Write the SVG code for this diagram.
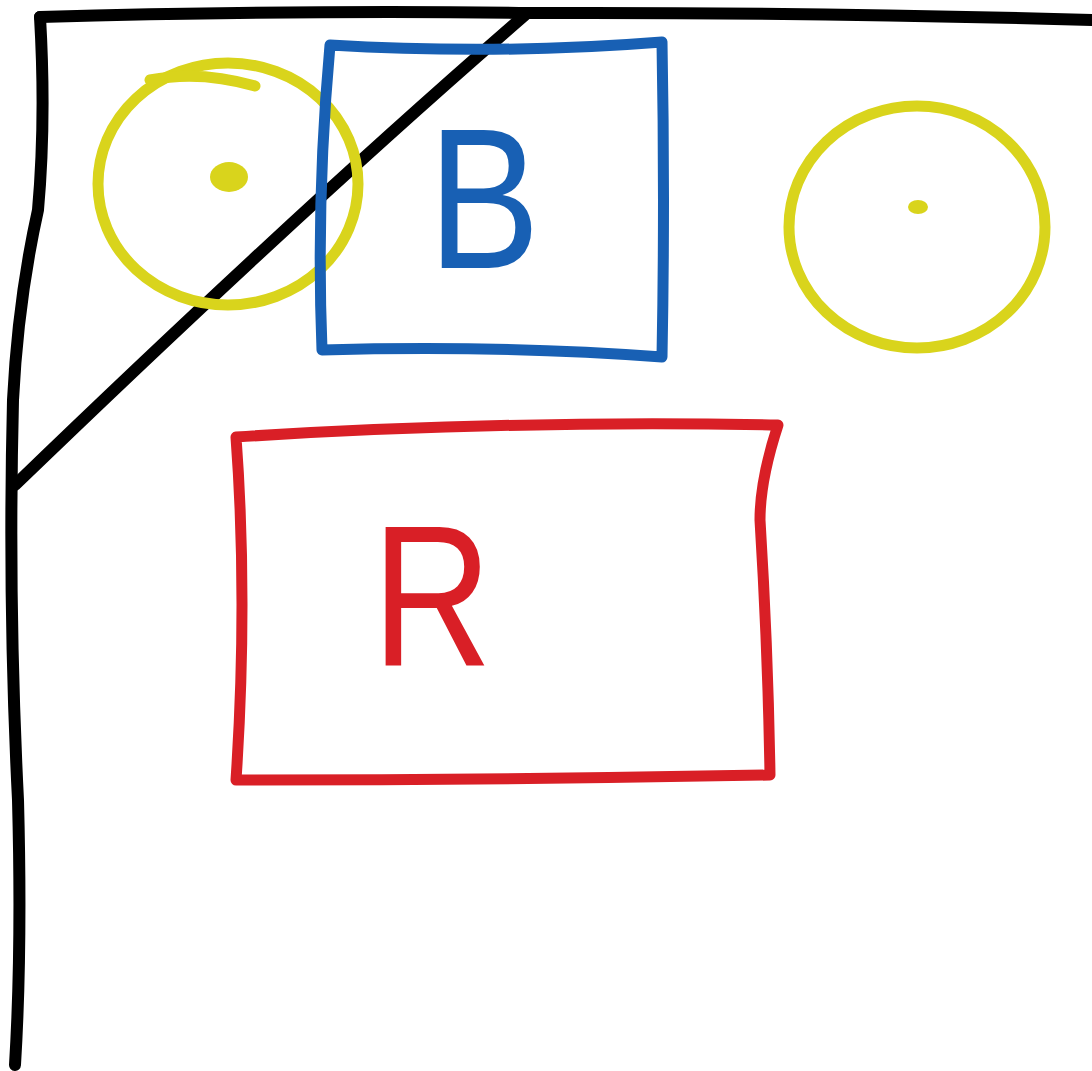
<svg xmlns="http://www.w3.org/2000/svg" width="1092" height="1071" viewBox="0 0 1092 1071">
<style>
.k{fill:none;stroke:#000;stroke-width:12;stroke-linecap:round;stroke-linejoin:round}
.y{fill:none;stroke:#d9d41c;stroke-width:11;stroke-linecap:round}
.b{fill:none;stroke:#1860b4;stroke-width:11;stroke-linecap:round;stroke-linejoin:round}
.r{fill:none;stroke:#d91f26;stroke-width:11;stroke-linecap:round;stroke-linejoin:round}
.t{font-family:"Liberation Sans",Arial,sans-serif;font-size:200px}
</style>
<rect width="1092" height="1071" fill="#fff"/>
<g id="frame">
<path class="k" d="M40,17 Q300,10 530,13 Q800,12 1092,20"/>
<path class="k" d="M40,17 Q46,120 38,210 Q18,300 13,400 Q8,600 18,800 Q22,950 15,1065"/>
<path class="k" d="M525,15 Q300,210 15,485"/>
</g>
<g id="sun-left">
<ellipse class="y" cx="228" cy="184" rx="130" ry="121"/>
<path class="y" d="M150,80 Q200,70 255,86"/>
<ellipse cx="229" cy="177" rx="19" ry="15" fill="#d9d41c"/>
</g>
<g id="sun-right">
<ellipse class="y" cx="917" cy="227" rx="128" ry="121"/>
<ellipse cx="918" cy="207" rx="10" ry="7" fill="#d9d41c"/>
</g>
<g id="box-b">
<path class="b" d="M330,45 Q500,55 662,42 Q665,200 662,357 Q500,345 322,350 Q316,200 330,45 Z"/>
<text class="t" x="428" y="268" fill="#1860b4" textLength="112" lengthAdjust="spacingAndGlyphs">B</text>
</g>
<g id="box-r">
<path class="r" d="M236,437 Q500,420 778,425 Q760,480 760,520 Q768,650 770,775 Q500,780 236,780 Q248,600 236,437 Z"/>
<text class="t" x="372" y="665" fill="#d91f26" textLength="120" lengthAdjust="spacingAndGlyphs">R</text>
</g>
</svg>
